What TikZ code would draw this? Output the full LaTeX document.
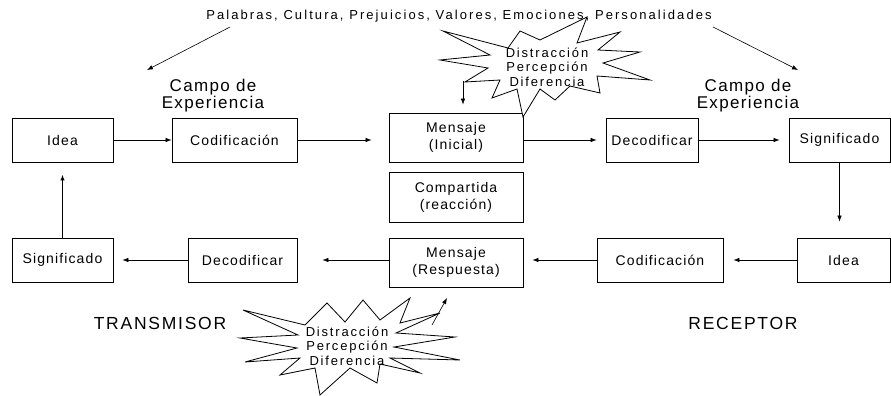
\documentclass[tikz,border=0pt]{standalone}
\usepackage{fontspec}
\setmainfont{Liberation Sans}[LetterSpace=8]
\usetikzlibrary{arrows.meta}

\tikzset{
  caja/.style={draw, line width=0.9pt, minimum height=44pt, inner sep=0pt, align=center, font=\fontsize{14}{17}\selectfont},
  flecha/.style={-{Latex[length=6pt,width=4.5pt]}, line width=0.6pt},
  titulo/.style={align=center, font=\fontsize{17}{17}\selectfont},
  lado/.style={font=\fontsize{17.5}{19}\selectfont\addfontfeatures{LetterSpace=10}},
  ruido/.style={align=center, font=\fontsize{13}{14.5}\selectfont\addfontfeatures{LetterSpace=14}, inner sep=0pt},
  estrella/.style={line width=0.8pt, line join=miter},
}

\begin{document}
\begin{tikzpicture}[x=1pt, y=-1pt]
  \useasboundingbox (0,0) rectangle (891,396);
  % fila de arriba
  \node[caja, minimum width=101pt] (idea1) at (62.5,140) {Idea};
  \node[caja, minimum width=125pt] (cod1) at (234.5,140) {Codificación};
  \node[caja, minimum width=134pt, minimum height=49pt] (men1) at (456,137.5) {Mensaje\\(Inicial)};
  \node[caja, minimum width=92pt] (dec1) at (652,140) {Decodificar};
  \node[caja, minimum width=101pt] (sig1) at (839.5,140) {Significado};
  \node[caja, minimum width=134pt, minimum height=50pt] (comp) at (456,197) {Compartida\\(reacción)};
  % fila de abajo
  \node[caja, minimum width=101pt] (sig2) at (62.5,260) {Significado};
  \node[caja, minimum width=109pt] (dec2) at (242.5,260) {Decodificar};
  \node[caja, minimum width=134pt, minimum height=49pt] (men2) at (456,262.5) {Mensaje\\(Respuesta)};
  \node[caja, minimum width=126pt] (cod2) at (660,260) {Codificación};
  \node[caja, minimum width=93pt] (idea2) at (843.5,260) {Idea};
  % textos
  \node[font=\fontsize{13}{15}\selectfont\addfontfeatures{LetterSpace=16}] (factores) at (459,16) {Palabras, Cultura, Prejuicios, Valores, Emociones, Personalidades};
  \node[titulo] (campo1) at (213,96) {Campo de\\Experiencia};
  \node[titulo] (campo2) at (748,96) {Campo de\\Experiencia};
  \node[lado] (trans) at (160,323) {TRANSMISOR};
  \node[lado] (recep) at (743,323) {RECEPTOR};
  % ruido
  \draw[estrella, fill=white] (443,31) -- (508,48) -- (520,31) -- (540,40) -- (587,17) -- (577,43)
    -- (620,32) -- (598,50) -- (640,52) -- (603,63) -- (650,80) -- (597,76) -- (600,93)
    -- (570,86) -- (555,100) -- (540,89) -- (523,117) -- (517,89) -- (492,98) -- (500,80)
    -- (465,82) -- (488,68) -- (440,60) -- (490,55) -- cycle;
  \node[ruido] (ruido1) at (547,67) {Distracción\\Percepción\\Diferencia};
  \draw[estrella, fill=white] (243,310) -- (305,325) -- (327,303) -- (345,322) -- (363,300)
    -- (380,320) -- (410,298) -- (400,323) -- (440,313) -- (396,333) -- (455,337) -- (394,347)
    -- (460,360) -- (390,358) -- (420,373) -- (380,364) -- (377,383) -- (350,368) -- (320,395)
    -- (315,368) -- (280,375) -- (300,358) -- (245,362) -- (297,348) -- (240,338) -- (298,335) -- cycle;
  \node[ruido] (ruido2) at (347,346) {Distracción\\Percepción\\Diferencia};
  \coordinate (r1) at (463,81);
  \coordinate (r2) at (432,325);
  \coordinate (r2b) at (447,298);
  \coordinate (f1) at (230,27);
  \coordinate (f1b) at (147,70);
  \coordinate (f2) at (713,27);
  \coordinate (f2b) at (798,70);
  % flechas
  \draw[flecha] (idea1) -- (cod1);
  \draw[flecha, shorten >=17pt] (cod1.east) -- (cod1.east -| men1.west);
  \draw[flecha, shorten >=9pt] (dec1.west -| men1.east) -- (dec1.west);
  \draw[flecha, shorten >=9pt] (dec1) -- (sig1);
  \draw[flecha, shorten >=16pt] (sig1.south) -- (sig1.south |- idea2.north);
  \draw[flecha, shorten >=10pt] (idea2) -- (cod2);
  \draw[flecha, shorten >=9pt] (cod2.west) -- (cod2.west -| men2.east);
  \draw[flecha, shorten >=25pt] (men2.west |- dec2.east) -- (dec2.east);
  \draw[flecha, shorten >=9pt] (dec2) -- (sig2);
  \draw[flecha, line width=1.6pt, shorten >=12pt] (sig2) -- (idea1);
  \draw[flecha, shorten >=8pt] (r1) -- (r1 |- men1.north);
  \draw[flecha] (r2) -- (r2b);
  \draw[flecha] (f1) -- (f1b);
  \draw[flecha] (f2) -- (f2b);
\end{tikzpicture}
\end{document}
